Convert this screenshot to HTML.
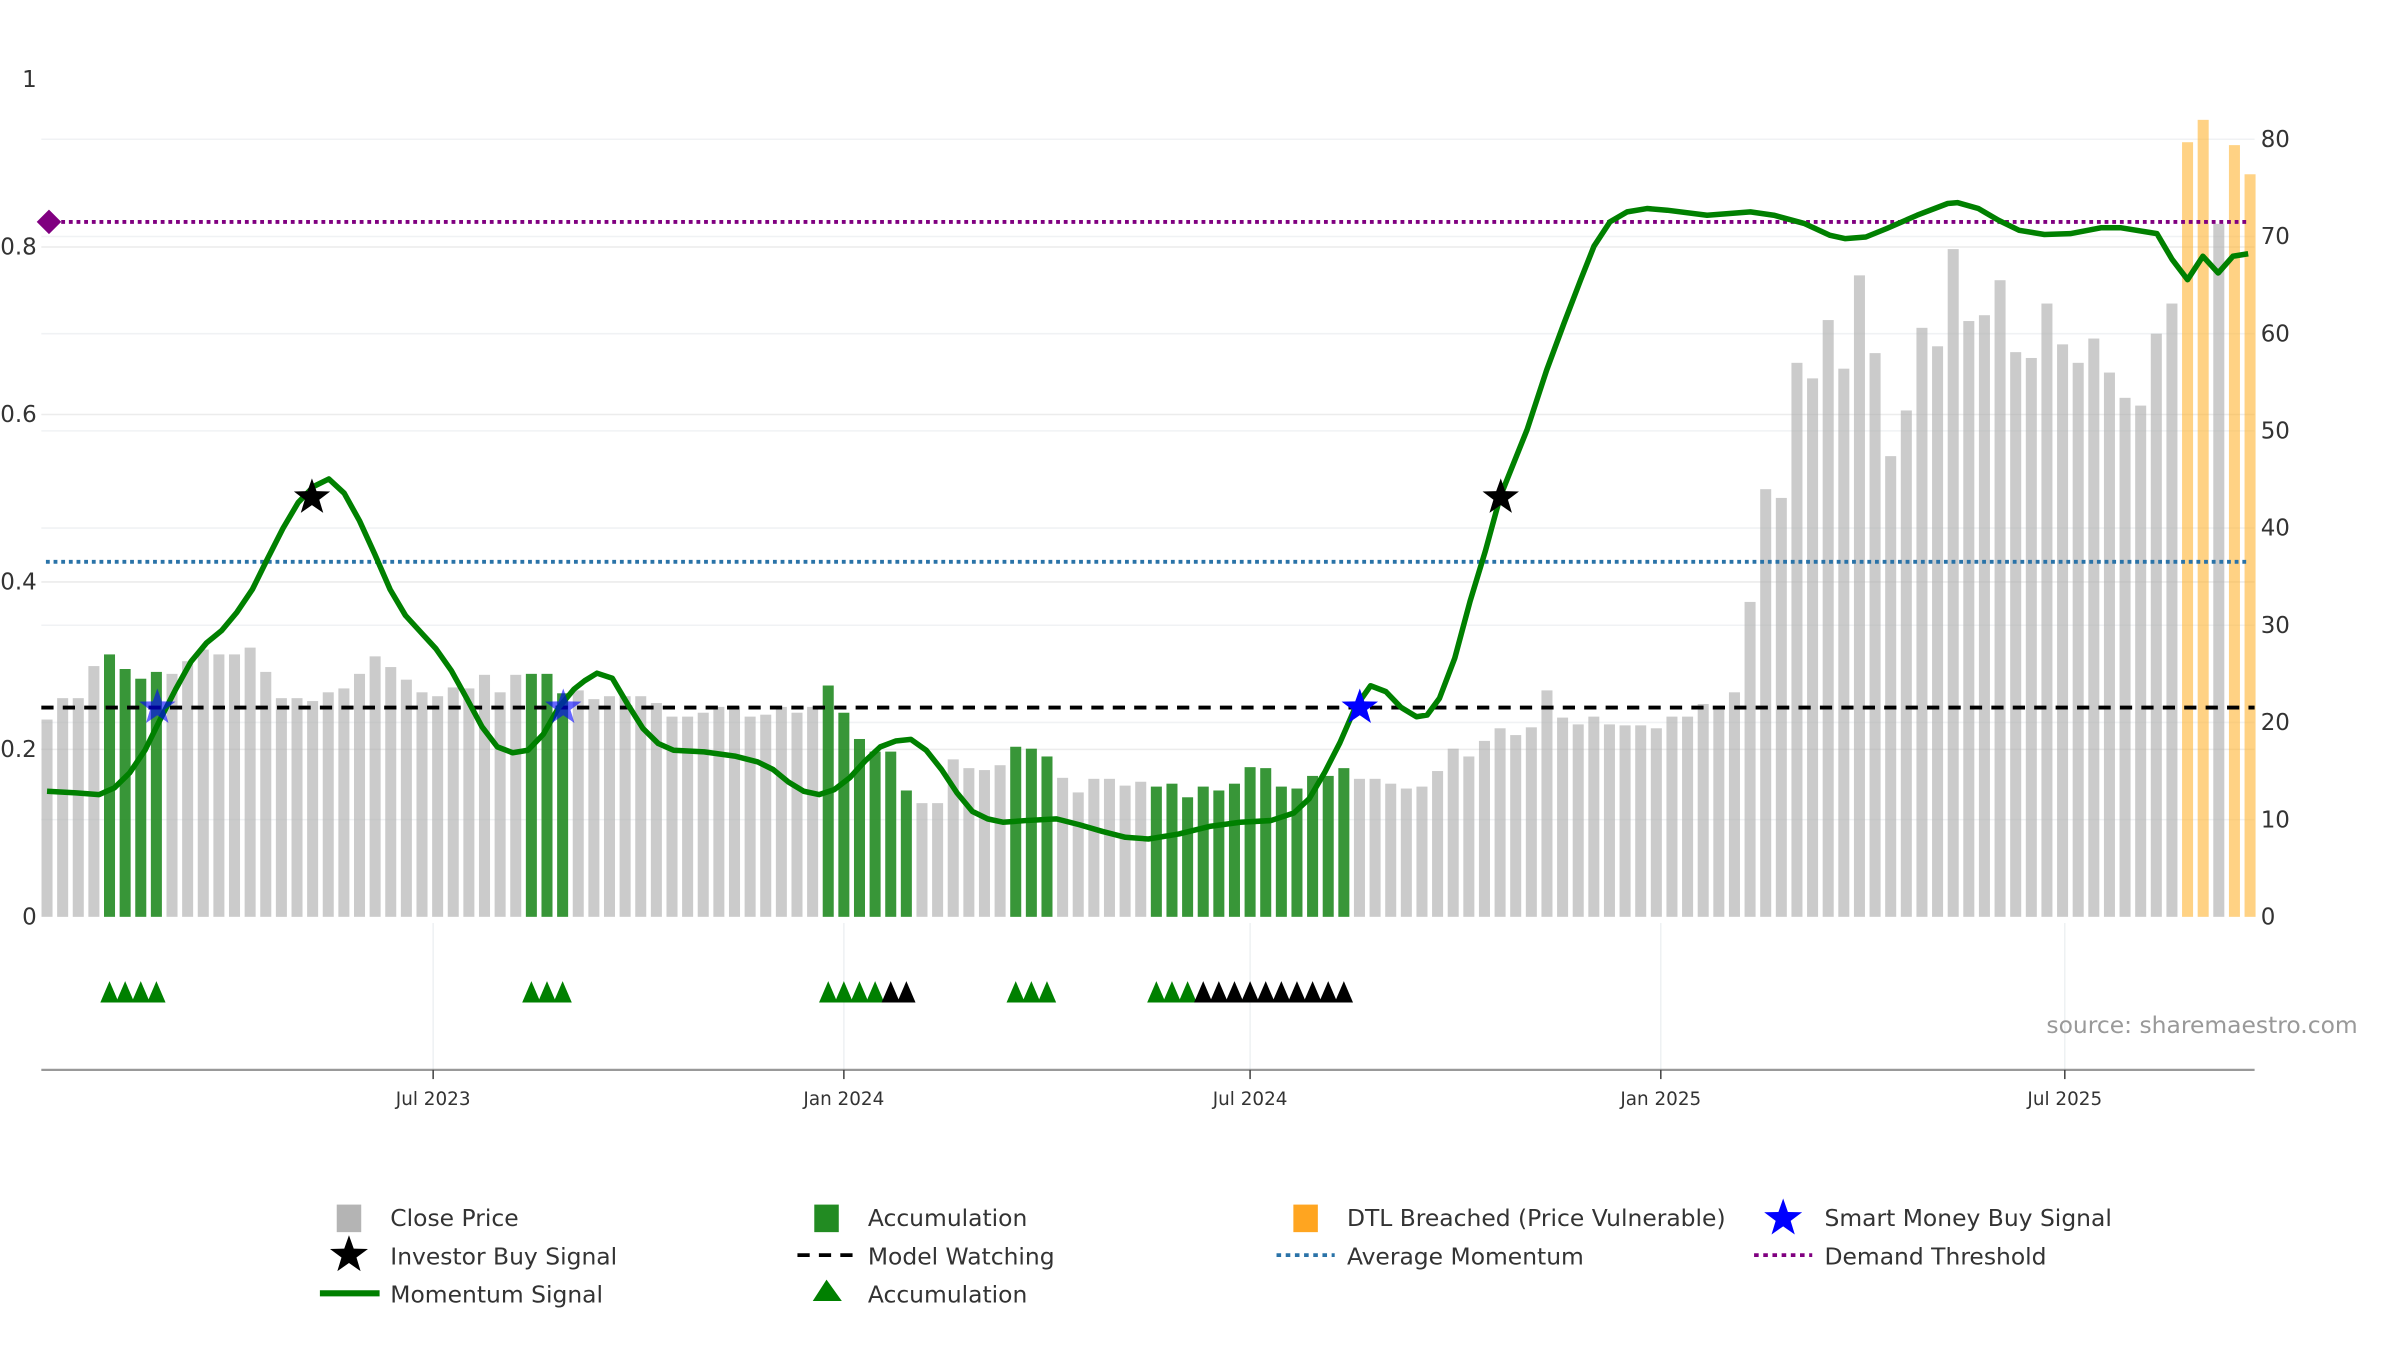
<!DOCTYPE html>
<html><head><meta charset="utf-8">
<style>
html,body{margin:0;padding:0;background:#fff;}
svg{display:block;font-family:"DejaVu Sans","Liberation Sans",sans-serif;}
</style></head>
<body>
<svg id="chart" width="2400" height="1350" viewBox="0 0 1568 882" preserveAspectRatio="none" xmlns="http://www.w3.org/2000/svg">
<g id="grid"></g>
<g id="bars"></g>
<g id="lines"></g>
<g id="series"></g>
<g id="marks"></g>
<g id="axes"></g>
<text x="1337" y="675" font-size="15.3" fill="#999">source: sharemaestro.com</text>
<g id="legend" font-size="15.3" fill="#333">
  <rect x="220" y="787" width="16" height="18" fill="#b4b4b4"/>
  <text x="255" y="801">Close Price</text>
  <rect x="532" y="787" width="16" height="18" fill="#228b22"/>
  <text x="567" y="801">Accumulation</text>
  <rect x="845" y="787" width="16" height="18" fill="#ffa520"/>
  <text x="880" y="801">DTL Breached (Price Vulnerable)</text>
  <text x="1192" y="801">Smart Money Buy Signal</text>
  <text x="255" y="826">Investor Buy Signal</text>
  <line x1="521" y1="820" x2="561" y2="820" stroke="#000" stroke-width="2.5" stroke-dasharray="8,6"/>
  <text x="567" y="826">Model Watching</text>
  <line x1="834" y1="820" x2="872" y2="820" stroke="#2a73a8" stroke-width="2.5" stroke-dasharray="3,3"/>
  <text x="880" y="826">Average Momentum</text>
  <line x1="1146" y1="820" x2="1184" y2="820" stroke="#800080" stroke-width="2.5" stroke-dasharray="3,3"/>
  <text x="1192" y="826">Demand Threshold</text>
  <line x1="209" y1="845" x2="248" y2="845" stroke="#008000" stroke-width="4"/>
  <text x="255" y="851">Momentum Signal</text>
  <polygon points="540,836 531,850 550,850" fill="#008000"/>
  <text x="567" y="851">Accumulation</text>
</g>
</svg>
<script>
// ---- data ----
const closePrices = [20.3,22.5,22.5,25.8,27,25.5,24.5,25.2,25,26.3,27.5,27,27,27.7,25.2,22.5,22.5,22.2,23.1,23.5,25,26.8,25.7,24.4,23.1,22.7,23.6,23.5,24.9,23.1,24.9,25,25,23,23.3,22.4,22.7,22.7,22.7,22,20.6,20.6,21,21.6,21.6,20.6,20.8,21.6,21,21.6,23.8,21,18.3,17,17,13,11.7,11.7,16.2,15.3,15.1,15.6,17.5,17.3,16.5,14.3,12.8,14.2,14.2,13.5,13.9,13.4,13.7,12.3,13.4,13,13.7,15.4,15.3,13.4,13.2,14.5,14.5,15.3,14.2,14.2,13.7,13.2,13.4,15,17.3,16.5,18.1,19.4,18.7,19.5,23.3,20.5,19.8,20.6,19.8,19.7,19.7,19.4,20.6,20.6,21.9,21.7,23.1,32.4,44,43.1,57,55.4,61.4,56.4,66,58,47.4,52.1,60.6,58.7,68.7,61.3,61.9,65.5,58.1,57.5,63.1,58.9,57,59.5,56,53.4,52.6,60,63.1,79.7,82,71.3,79.4,76.4];
// bar state: 0 = close price, 1 = accumulation, 2 = DTL breached
const barState = [0,0,0,0,1,1,1,1,0,0,0,0,0,0,0,0,0,0,0,0,0,0,0,0,0,0,0,0,0,0,0,1,1,1,0,0,0,0,0,0,0,0,0,0,0,0,0,0,0,0,1,1,1,1,1,1,0,0,0,0,0,0,1,1,1,0,0,0,0,0,0,1,1,1,1,1,1,1,1,1,1,1,1,1,0,0,0,0,0,0,0,0,0,0,0,0,0,0,0,0,0,0,0,0,0,0,0,0,0,0,0,0,0,0,0,0,0,0,0,0,0,0,0,0,0,0,0,0,0,0,0,0,0,0,0,0,0,2,2,0,2,2];
const momentumIdx = [0,1.86,3.33,4.31,5.29,6.27,7.25,8.24,9.22,10.2,11.18,12.16,13.14,14.12,15.1,16.08,17.06,18.04,19.02,20,20.98,21.96,22.94,23.92,24.9,25.88,26.86,27.84,28.82,29.8,30.78,31.76,32.75,33.73,34.41,35.2,36.18,37.16,38.14,39.12,40.1,42.06,44.02,45.49,46.47,47.45,48.43,49.41,50.39,51.37,52.35,53.33,54.31,55.29,56.27,57.25,58.24,59.22,60.2,61.18,62.65,64.61,66.08,67.55,69.02,70.49,72.45,74.41,76.37,78.33,79.8,80.78,81.76,82.75,83.73,84.71,85.69,86.67,87.65,88.33,89.12,90.1,91.08,92.06,93.01,94.73,95.98,97.09,98.16,99.01,100.03,101.13,102.4,103.69,106.25,109.02,110.52,112.49,114.12,115.1,116.41,117.73,119.69,121.65,122.29,123.61,124.9,126.22,127.84,129.49,131.45,132.75,135.04,136.02,137.0,137.98,138.96,139.9,140.88];
const momentumVal = [.150,.148,.146,.154,.172,.199,.236,.272,.305,.327,.342,.364,.391,.428,.464,.495,.514,.523,.506,.473,.433,.391,.360,.340,.320,.294,.261,.227,.203,.196,.199,.218,.250,.272,.282,.291,.285,.254,.225,.207,.199,.197,.192,.185,.176,.161,.150,.146,.152,.166,.186,.203,.210,.212,.199,.176,.148,.126,.117,.113,.115,.117,.110,.102,.095,.093,.099,.108,.113,.115,.124,.141,.172,.208,.250,.276,.269,.250,.239,.241,.261,.309,.377,.437,.502,.582,.653,.709,.761,.801,.830,.842,.846,.844,.838,.842,.838,.828,.814,.810,.812,.822,.838,.852,.853,.846,.832,.820,.815,.816,.823,.823,.816,.785,.761,.789,.769,.789,.792];
const investorBuyIdx = [16.96,93.04];
const investorBuyVal = [0.501,0.501];
const smartMoneyIdx = [7.06,33.04,84.02];
const smartMoneyVal = [0.25,0.25,0.25];
const accumTriIdx = [4,5,6,7,31,32,33,50,51,52,53,62,63,64,71,72,73];
const watchTriIdx = [54,55,74,75,76,77,78,79,80,81,82,83];
const modelWatching = 0.25, averageMomentum = 0.424, demandThreshold = 0.830;
const leftTicks = [0,0.2,0.4,0.6,0.8,1];
const leftTickLabels = ["0","0.2","0.4","0.6","0.8","1"];
const rightTicks = [0,10,20,30,40,50,60,70,80];
const dateTicks = ["2023-07-01","2024-01-01","2024-07-01","2025-01-01","2025-07-01"];
const dateTickLabels = ["Jul 2023","Jan 2024","Jul 2024","Jan 2025","Jul 2025"];
const startDate = "2023-01-09";

// ---- scales ----
const NS="http://www.w3.org/2000/svg";
const PX_PER_DAY = (1349-283)/731;
const REF = Date.UTC(2023,6,1);
function xDate(s){const d=new Date(s+"T00:00:00Z");return 283+(d-REF)/86400000*PX_PER_DAY;}
const X0 = xDate(startDate);
function xIdx(i){return X0 + i*7*PX_PER_DAY;}
function yL(v){return 599-547*v;}
function yR(v){return 599-v*(508/80);}
function mk(tag,attrs,parent){const e=document.createElementNS(NS,tag);for(const k in attrs)e.setAttribute(k,attrs[k]);parent.appendChild(e);return e;}
function starPts(cx,cy,r){const p=[];for(let k=0;k<10;k++){const a=-Math.PI/2+k*Math.PI/5;const rr=k%2?r*0.4:r;p.push((cx+rr*Math.cos(a)).toFixed(1)+","+(cy+rr*Math.sin(a)).toFixed(1));}return p.join(" ");}

const G=id=>document.getElementById(id);
// grid
const grid=G('grid');
leftTicks.slice(1,5).forEach(t=>{const l=mk('line',{x1:27,x2:1473,y1:yL(t),y2:yL(t),stroke:'#ececec','stroke-width':1},grid);

});
rightTicks.slice(1).forEach(t=>{const l=mk('line',{x1:27,x2:1473,y1:yR(t),y2:yR(t),stroke:'#f0f2f4','stroke-width':1},grid);

});
dateTicks.forEach(d=>{const l=mk('line',{x1:xDate(d),x2:xDate(d),y1:603,y2:699,stroke:'#eef1f3','stroke-width':1},grid);

});

// bars
const bars=G('bars');const colors=['rgba(175,175,175,0.65)','rgba(34,139,34,0.9)','rgba(255,180,50,0.6)'];
closePrices.forEach((v,i)=>{const r=mk('rect',{x:(xIdx(i)-3.6).toFixed(2),y:yR(v).toFixed(2),width:7.2,height:(599-yR(v)).toFixed(2),fill:colors[barState[i]]},bars);

});

// ref lines
const lines=G('lines');
let l1=mk('line',{x1:27,x2:1473,y1:yL(modelWatching),y2:yL(modelWatching),stroke:'#000','stroke-width':2.5,'stroke-dasharray':'8,6'},lines);


let l2=mk('line',{x1:30,x2:1470,y1:yL(averageMomentum),y2:yL(averageMomentum),stroke:'#2a73a8','stroke-width':2.5,'stroke-dasharray':'2.5,2.5'},lines);


let l3=mk('line',{x1:30,x2:1470,y1:yL(demandThreshold),y2:yL(demandThreshold),stroke:'#800080','stroke-width':2.5,'stroke-dasharray':'2.5,2.5'},lines);


const yd=yL(demandThreshold);
let dm=mk('polygon',{points:`32,${yd-8} 40,${yd} 32,${yd+8} 24,${yd}`,fill:'#800080'},lines);



// momentum
const series=G('series');
const d=momentumIdx.map((t,i)=>(i?'L':'M')+xIdx(t).toFixed(2)+','+yL(momentumVal[i]).toFixed(2)).join(' ');
let ml=mk('path',{d:d,fill:'none',stroke:'#008000','stroke-width':3.6,'stroke-linejoin':'round'},series);



// markers
const marks=G('marks');
investorBuyIdx.forEach((t,i)=>{const s=mk('polygon',{points:starPts(xIdx(t),yL(investorBuyVal[i]),12.5),fill:'#000'},marks);

});
smartMoneyIdx.forEach((t,i)=>{const s=mk('polygon',{points:starPts(xIdx(t),yL(smartMoneyVal[i]),12.5),fill:'#0000ff','fill-opacity':i<2?0.6:1},marks);

});
accumTriIdx.forEach(t=>{const x=xIdx(t);const p=mk('polygon',{points:`${x},641 ${x-6},655 ${x+6},655`,fill:'#008000'},marks);

});
watchTriIdx.forEach(t=>{const x=xIdx(t);const p=mk('polygon',{points:`${x},641 ${x-6},655 ${x+6},655`,fill:'#000'},marks);

});

// axes
const axes=G('axes');
let ax=mk('line',{x1:27,x2:1473,y1:699,y2:699,stroke:'#999','stroke-width':1.5},axes);


dateTicks.forEach((dt,i)=>{const x=xDate(dt);
const tk=mk('line',{x1:x,x2:x,y1:699,y2:705,stroke:'#444','stroke-width':1},axes);


const tx=mk('text',{x:x,y:722,'font-size':12,'text-anchor':'middle',fill:'#333'},axes);tx.textContent=dateTickLabels[i];

});
leftTicks.forEach((t,i)=>{const tx=mk('text',{x:24,y:yL(t)+5,'font-size':15,'text-anchor':'end',fill:'#333'},axes);tx.textContent=leftTickLabels[i];

});
rightTicks.forEach(t=>{const tx=mk('text',{x:1477,y:yR(t)+5,'font-size':15,fill:'#333'},axes);tx.textContent=String(t);

});

// legend stars
const lg=G('legend');
let s1=mk('polygon',{points:starPts(1165,796,13),fill:'#0000ff'},lg);


let s2=mk('polygon',{points:starPts(228,820,13),fill:'#000'},lg);


</script>
</body></html>
